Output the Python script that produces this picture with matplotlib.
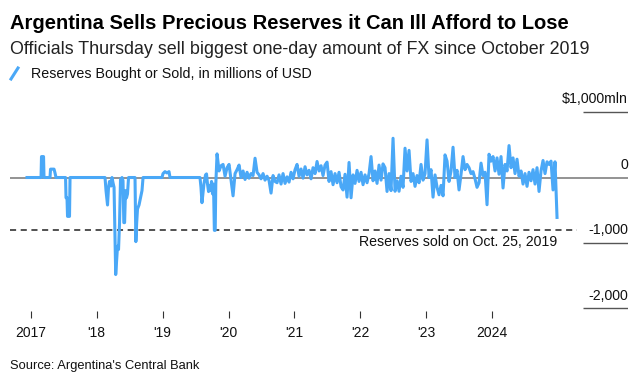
import matplotlib
matplotlib.use("Agg")
import matplotlib.pyplot as plt
from matplotlib.lines import Line2D
import numpy as np

plt.rcParams['font.family'] = ['Liberation Sans', 'DejaVu Sans']

blue = '#4aa8f7'
W, H = 644, 384

# quiet period 2017 - Oct 2019: (decimal year, mln USD)
early_x = [2016.942, 2017.155, 2017.162, 2017.193, 2017.200, 2017.291, 2017.299, 2017.352,
           2017.367, 2017.382, 2017.527, 2017.534, 2017.549, 2017.557, 2017.587, 2017.595,
           2018.126, 2018.141, 2018.164, 2018.179, 2018.194, 2018.217, 2018.232, 2018.247,
           2018.263, 2018.278, 2018.288, 2018.300, 2018.316, 2018.331, 2018.346, 2018.361,
           2018.384, 2018.399, 2018.411, 2018.423, 2018.437, 2018.452, 2018.467, 2018.483,
           2018.581, 2018.594, 2018.606, 2018.619, 2018.642, 2018.665, 2018.687, 2018.703,
           2018.991, 2019.006, 2019.036, 2019.066, 2019.097, 2019.112,
           2019.567, 2019.582, 2019.597, 2019.612, 2019.627, 2019.651, 2019.666, 2019.681,
           2019.697, 2019.712, 2019.727, 2019.742, 2019.757, 2019.772, 2019.785, 2019.798,
           2019.807]
early_y = [0, 0, 320, 320, 0, 0, 128, 128,
           70, 0, 0, -310, -310, -594, -594, 0,
           0, -200, -420, -150, -60, -130, 0, -80,
           -150, -900, -1483, -1300, -1050, -1100, -700, -30,
           0, -50, -690, -690, -200, -310, -250, 0,
           0, -980, -700, -480, -420, -310, -200, 0,
           0, 60, 90, 70, 90, 0,
           0, -150, -385, -250, -100, 40, 55, -100,
           -215, -120, -200, -60, -250, -100, -808, -808,
           -100]

# active period Oct 2019 - end 2024, roughly fortnightly readings
late_start, late_end = 2019.826, 2024.985
late_y = [361, 100, 180, 200, 20, 150, 200, -40, -280, 60,
          120, 190, 0, 100, -30, 80, -10, 60, 30, 295,
          80, 40, -20, 60, -40, 20, -45, -238, 30, -60,
          -80, 40, -100, 60, -90, 10, -70, 80, -20, 120,
          200, 20, 130, -10, 165, 40, 110, -20, 150, 60,
          245, 100, 180, 30, 190, 235, -60, 90, -110, 60,
          -80, 80, -140, -190, 50, -300, 230, -310, 40, -90,
          110, -60, 80, -110, 40, -80, 60, 320, -50, 100,
          -90, 190, -40, 208, 150, -213, 60, -200, 600, -210,
          -50, -210, 20, -150, 448, 100, 415, -60, 60, -135,
          30, -80, 200, -40, 60, 575, 0, 120, -300, 40,
          -150, -264, -120, -280, 346, 250, -60, 100, 463, 0,
          110, -190, 50, 320, 120, 200, 150, 60, 90, -20,
          -150, -80, 220, 30, 80, -416, 356, 250, 320, 100,
          300, 50, 320, -160, 200, 100, 488, 150, 300, 60,
          280, 20, 100, -100, 60, -135, 80, -50, 120, -100,
          150, -213, 100, 260, 60, 240, 200, 250, -190, 240,
          -610]

oct_2019 = -808
grid_vals = [1000, 0, -1000, -2000]
grid_labels = ['$1,000mln', '0', '-1,000', '-2,000']
years = [2017, 2018, 2019, 2020, 2021, 2022, 2023, 2024]
year_labels = ['2017', "'18", "'19", "'20", "'21", "'22", "'23", '2024']

x_lo, x_hi = 2016.684, 2026.062
y_lo, y_hi = -2040, 1368

fig = plt.figure(figsize=(6.44, 3.84), dpi=100)
ax = fig.add_axes([10 / W, (H - 311) / H, 618 / W, 223 / H])
ax.set_xlim(x_lo, x_hi)
ax.set_ylim(y_lo, y_hi)
for s in ax.spines.values():
    s.set_visible(False)

late_x = np.linspace(late_start, late_end, len(late_y))
xs = np.concatenate([early_x, late_x])
ys = np.concatenate([early_y, late_y])

ax.axhline(0, color='#808080', lw=1.2, zorder=1)
ax.hlines([1000, -1000, -2000], 2025.379, x_hi, color='#555555', lw=1.0)
ax.hlines(oct_2019, x_lo, 2025.288, color='#222222', lw=1.1, linestyles=(0, (4, 3)))
ax.plot(xs, ys, color=blue, lw=2.2, solid_joinstyle='round', zorder=3)

for v, lab in zip(grid_vals, grid_labels):
    ax.text(x_hi, v + 135, lab, ha='right', va='baseline', fontsize=10.2, color='#111111')

ax.text(2024.985, oct_2019 - 70, 'Reserves sold on Oct. 25, 2019', ha='right', va='top',
        fontsize=10.2, color='#111111')

ax.set_yticks([])
ax.set_xticks(years)
ax.set_xticklabels(year_labels)
ax.tick_params(axis='x', length=5, width=0.8, color='#333333', labelsize=10,
               labelcolor='#111111', pad=6)

fig.text(10 / W, 1 - 29 / H, 'Argentina Sells Precious Reserves it Can Ill Afford to Lose',
         fontsize=14.5, fontweight='bold', va='baseline', color='#000000')
fig.text(10 / W, 1 - 54 / H, 'Officials Thursday sell biggest one-day amount of FX since October 2019',
         fontsize=12.9, va='baseline', color='#222222')
fig.add_artist(Line2D([11 / W, 18 / W], [1 - 79 / H, 1 - 68 / H], color=blue, lw=2.2))
fig.text(31 / W, 1 - 78 / H, 'Reserves Bought or Sold, in millions of USD',
         fontsize=10.3, va='baseline', color='#111111')
fig.text(10 / W, 1 - 369 / H, "Source: Argentina's Central Bank",
         fontsize=9.3, va='baseline', color='#111111')

fig.savefig('out.png', dpi=100)
